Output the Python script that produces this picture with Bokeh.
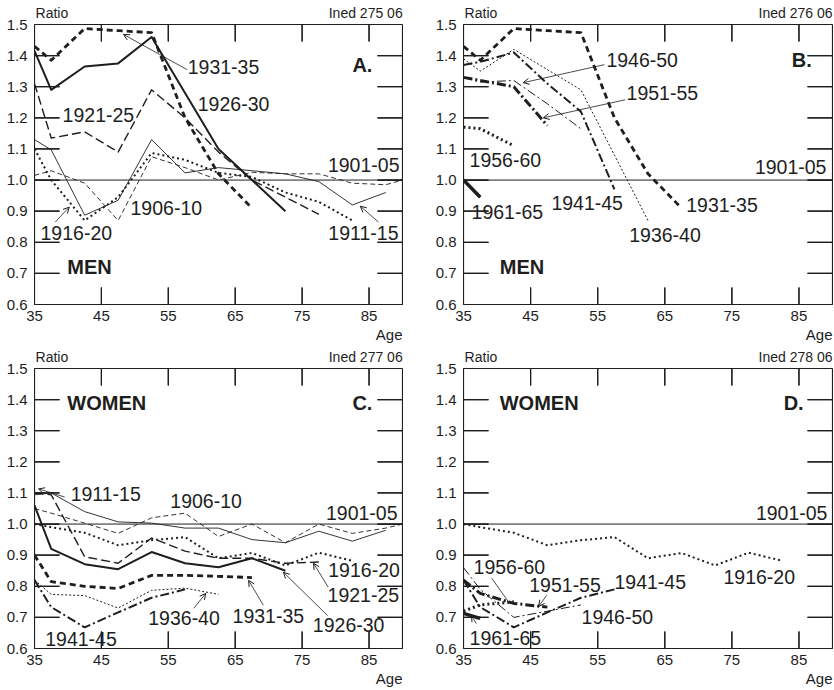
from bokeh.plotting import figure
from bokeh.models import (Range1d, LinearAxis, FixedTicker, PrintfTickFormatter,
                          Label, Arrow, OpenHead, Span, Title, BoxAnnotation)
from bokeh.layouts import column, row
from bokeh.embed import file_html
from bokeh.resources import INLINE

# ---------------- data ----------------
AGES = [35, 37.5, 42.5, 47.5, 52.5, 57.5, 62.5, 67.5, 72.5, 77.5, 82.5, 87.5, 90]
X_TICKS = [35, 45, 55, 65, 75, 85]
Y_TICKS = [0.6, 0.7, 0.8, 0.9, 1.0, 1.1, 1.2, 1.3, 1.4, 1.5]
X_MIN, X_MAX = 35, 90
Y_MIN, Y_MAX = 0.6, 1.5
REF_1901_05 = 1.0

# men
men_1906_10 = [1.015, 1.03, 0.99, 0.87, 1.075, 1.04, 1.00, 1.025, 1.02, 1.02, 0.99, 0.985, 1.0]
men_1911_15 = [1.13, 1.097, 0.887, 0.935, 1.13, 1.023, 1.04, 1.03, 1.02, 0.995, 0.92, 0.96]
men_1916_20 = [1.10, 1.00, 0.87, 0.945, 1.087, 1.065, 1.023, 1.01, 0.96, 0.93, 0.87]
men_1921_25 = [1.31, 1.135, 1.155, 1.09, 1.29, 1.20, 1.09, 1.00, 0.945, 0.89]
men_1926_30 = [1.415, 1.29, 1.365, 1.375, 1.46, 1.28, 1.10, 1.00, 0.90]
men_1931_35 = [1.43, 1.385, 1.487, 1.48, 1.474, 1.20, 1.02, 0.91]
men_1936_40 = [1.39, 1.35, 1.42, 1.355, 1.29, 1.08, 0.87]
men_1941_45 = [1.37, 1.38, 1.41, 1.31, 1.22, 0.97]
men_1946_50 = [1.33, 1.315, 1.32, 1.245, 1.165]
men_1951_55 = [1.33, 1.32, 1.30, 1.175]
men_1956_60 = [1.17, 1.165, 1.11]
men_1961_65 = [1.0, 0.945]

# women
wom_1906_10 = [1.05, 1.035, 1.003, 0.97, 1.02, 1.035, 0.96, 1.0, 0.94, 1.0, 0.97, 0.987, 1.0]
wom_1911_15 = [1.094, 1.10, 1.04, 1.007, 1.003, 0.987, 0.987, 0.95, 0.94, 0.977, 0.945, 0.98]
wom_1916_20 = [1.0, 0.99, 0.972, 0.932, 0.948, 0.958, 0.89, 0.907, 0.867, 0.908, 0.882]
wom_1921_25 = [1.10, 1.094, 0.895, 0.874, 0.955, 0.913, 0.89, 0.89, 0.874, 0.878]
wom_1926_30 = [1.06, 0.92, 0.871, 0.855, 0.91, 0.874, 0.861, 0.89, 0.85]
wom_1931_35 = [0.90, 0.815, 0.80, 0.793, 0.835, 0.835, 0.832, 0.828]
wom_1936_40 = [0.82, 0.774, 0.77, 0.73, 0.787, 0.794, 0.774]
wom_1941_45 = [0.82, 0.733, 0.668, 0.716, 0.763, 0.79]
wom_1946_50 = [0.86, 0.79, 0.70, 0.72, 0.74]
wom_1951_55 = [0.82, 0.777, 0.745, 0.733]
wom_1956_60 = [0.72, 0.74, 0.75]
wom_1961_65 = [0.713, 0.697]

# ---------------- styles ----------------
INK = "#1e1e1e"
FONT = "Liberation Sans"
STYLE = {
    "1906-10": (0.9, "5 3"),
    "1911-15": (0.9, "solid"),
    "1916-20": (2.0, "2 3"),
    "1921-25": (1.4, "9 4"),
    "1926-30": (2.0, "solid"),
    "1931-35": (2.8, "6 4"),
    "1936-40": (1.0, "2 2"),
    "1941-45": (2.0, "9 3 2 3"),
    "1946-50": (1.0, "9 3 2 3"),
    "1951-55": (3.0, "9 3 2 3"),
    "1956-60": (3.0, "2 3"),
    "1961-65": (3.5, "solid"),
}
FRAME_H = 280
HDR_RATIO_X = 37.6   # where the "Ratio" header sits along the top edge
HDR_CODE_X = 84.5    # where the "Ined ..." code sits along the top edge
Y_TICK_PX = 25       # length of the inward y ticks, px
X_TICK_PX = 17       # length of the inward x ticks, px


def add_ticks(p, fw):
    """Inward tick marks on all four sides.

    Each side is one continuous comb-shaped polyline that runs along the frame
    edge and out to every tick and back; thin boxes are laid on the same spots.
    """
    dx = Y_TICK_PX * (X_MAX - X_MIN) / fw
    dy = X_TICK_PX * (Y_MAX - Y_MIN) / FRAME_H
    hx = 0.6 * (X_MAX - X_MIN) / fw
    hy = 0.6 * (Y_MAX - Y_MIN) / FRAME_H
    iy = [t for t in Y_TICKS if Y_MIN < t < Y_MAX]
    ix = [t for t in X_TICKS if X_MIN < t < X_MAX]
    for edge, tip in [(X_MIN, X_MIN + dx), (X_MAX, X_MAX - dx)]:
        xs, ys = [edge], [Y_MIN]
        for t in iy:
            xs += [edge, tip, edge]
            ys += [t, t, t]
        xs.append(edge)
        ys.append(Y_MAX)
        p.line(xs, ys, line_color=INK, line_width=1.2)
        for t in iy:
            p.add_layout(BoxAnnotation(left=min(edge, tip), right=max(edge, tip),
                                       bottom=t - hy, top=t + hy,
                                       fill_color=INK, fill_alpha=1.0,
                                       line_color=INK, line_alpha=0.0))
    for edge, tip in [(Y_MIN, Y_MIN + dy), (Y_MAX, Y_MAX - dy)]:
        xs, ys = [X_MIN], [edge]
        for t in ix:
            xs += [t, t, t]
            ys += [edge, tip, edge]
        xs.append(X_MAX)
        ys.append(edge)
        p.line(xs, ys, line_color=INK, line_width=1.2)
        for t in ix:
            p.add_layout(BoxAnnotation(left=t - hx, right=t + hx,
                                       bottom=min(edge, tip), top=max(edge, tip),
                                       fill_color=INK, fill_alpha=1.0,
                                       line_color=INK, line_alpha=0.0))


def make_panel(fw, bl, br, bt, bb, code):
    p = figure(frame_width=fw, frame_height=FRAME_H,
               min_border_left=bl, min_border_right=br,
               min_border_top=bt, min_border_bottom=bb,
               x_range=Range1d(X_MIN, X_MAX), y_range=Range1d(Y_MIN, Y_MAX),
               x_axis_location=None, y_axis_location=None,
               output_backend="svg", toolbar_location=None)
    p.grid.visible = False
    p.outline_line_color = INK
    p.outline_line_width = 1
    p.background_fill_color = "white"
    p.border_fill_color = "white"
    for loc, ticks, fmt, standoff in [("left", Y_TICKS, "%.1f", 7),
                                      ("below", X_TICKS, "%d", 6)]:
        ax = LinearAxis(ticker=FixedTicker(ticks=ticks, minor_ticks=[]),
                        formatter=PrintfTickFormatter(format=fmt),
                        major_tick_in=0, major_tick_out=0,
                        major_tick_line_color=None, minor_tick_line_color=None,
                        axis_line_color=INK,
                        major_label_text_font=FONT,
                        major_label_text_font_size="15px",
                        major_label_text_color=INK,
                        major_label_standoff=standoff)
        p.add_layout(ax, loc)
    top = LinearAxis(ticker=FixedTicker(ticks=[HDR_RATIO_X, HDR_CODE_X], minor_ticks=[]),
                     major_label_overrides={HDR_RATIO_X: "Ratio", HDR_CODE_X: code},
                     major_tick_in=0, major_tick_out=0,
                     major_tick_line_color=None, minor_tick_line_color=None,
                     axis_line_color=None,
                     major_label_text_font=FONT, major_label_text_font_size="14px",
                     major_label_text_color=INK, major_label_standoff=4)
    p.add_layout(top, "above")
    p.add_layout(Title(text="Age", align="right", text_font=FONT,
                       text_font_size="15px", text_font_style="normal",
                       text_color=INK, standoff=0), "below")
    p.add_layout(Span(location=REF_1901_05, dimension="width",
                      line_color=INK, line_width=1))
    return p


def add_series(p, series):
    for name, vals in series:
        lw, dash = STYLE[name]
        p.line(AGES[:len(vals)], vals, line_color=INK, line_width=lw,
               line_dash=dash, line_join="round")


def add_text(p, items, size="19.5px", style="normal"):
    for it in items:
        txt, x, y = it[0], it[1], it[2]
        align = it[3] if len(it) > 3 else "left"
        p.add_layout(Label(x=x, y=y, text=txt, text_font=FONT, text_font_size=size,
                           text_font_style=style, text_color=INK,
                           text_align=align, text_baseline="middle"))


def add_arrows(p, items, head=True):
    for x0, y0, x1, y1 in items:
        end = OpenHead(size=6, line_color=INK, line_width=1) if head else None
        p.add_layout(Arrow(end=end, x_start=x0, y_start=y0, x_end=x1, y_end=y1,
                           line_color=INK, line_width=0.8))


# ---------------- panel A ----------------
pa = make_panel(368, 34, 30, 24, 40, "Ined 275 06")
add_series(pa, [("1906-10", men_1906_10), ("1911-15", men_1911_15),
                ("1916-20", men_1916_20), ("1921-25", men_1921_25),
                ("1926-30", men_1926_30), ("1931-35", men_1931_35)])
add_ticks(pa, 368)
add_text(pa, [("1931-35", 57.9, 1.365), ("1926-30", 59.4, 1.245),
              ("1921-25", 39.2, 1.21), ("1916-20", 35.9, 0.829),
              ("1906-10", 49.35, 0.91), ("1901-05", 89.55, 1.048, "right"),
              ("1911-15", 89.4, 0.829, "right")])
add_text(pa, [("A.", 85.5, 1.371, "right"), ("MEN", 39.9, 0.719)], "20px", "bold")
add_arrows(pa, [(57.8, 1.355, 48.3, 1.468), (38.1, 0.865, 40.2, 0.913),
                (86.4, 0.865, 83.7, 0.916)])

# ---------------- panel B ----------------
pb = make_panel(369, 30, 2, 24, 40, "Ined 276 06")
add_series(pb, [("1931-35", men_1931_35), ("1936-40", men_1936_40),
                ("1941-45", men_1941_45), ("1946-50", men_1946_50),
                ("1951-55", men_1951_55), ("1956-60", men_1956_60),
                ("1961-65", men_1961_65)])
add_ticks(pb, 369)
add_text(pb, [("1946-50", 56.3, 1.387), ("1951-55", 59.3, 1.281),
              ("1956-60", 35.9, 1.065), ("1901-05", 89.1, 1.042, "right"),
              ("1961-65", 36.2, 0.897), ("1941-45", 48.1, 0.926),
              ("1931-35", 68.2, 0.919), ("1936-40", 59.7, 0.823)])
add_text(pb, [("B.", 86.9, 1.387, "right"), ("MEN", 40.4, 0.719)], "20px", "bold")
add_arrows(pb, [(56.0, 1.371, 43.9, 1.313), (59.1, 1.258, 46.9, 1.2)])

# ---------------- panel C ----------------
pc = make_panel(368, 34, 30, 24, 40, "Ined 277 06")
add_series(pc, [("1906-10", wom_1906_10), ("1911-15", wom_1911_15),
                ("1916-20", wom_1916_20), ("1921-25", wom_1921_25),
                ("1926-30", wom_1926_30), ("1931-35", wom_1931_35),
                ("1936-40", wom_1936_40), ("1941-45", wom_1941_45)])
add_ticks(pc, 368)
add_text(pc, [("1911-15", 40.4, 1.097), ("1906-10", 55.3, 1.074),
              ("1901-05", 89.26, 1.035, "right"), ("1916-20", 89.6, 0.852, "right"),
              ("1921-25", 78.8, 0.771), ("1926-30", 76.6, 0.674),
              ("1931-35", 64.6, 0.706), ("1936-40", 52.0, 0.697),
              ("1941-45", 36.6, 0.632)])
add_text(pc, [("C.", 85.5, 1.39, "right"), ("WOMEN", 39.9, 1.39)], "20px", "bold")
add_arrows(pc, [(39.5, 1.087, 35.6, 1.113), (78.9, 0.797, 76.7, 0.874),
                (78.8, 0.706, 72.2, 0.845), (69.2, 0.739, 67.0, 0.819),
                (58.8, 0.729, 60.6, 0.777)])

# ---------------- panel D ----------------
pd_ = make_panel(369, 30, 2, 24, 40, "Ined 278 06")
add_series(pd_, [("1916-20", wom_1916_20), ("1941-45", wom_1941_45),
                 ("1946-50", wom_1946_50), ("1951-55", wom_1951_55),
                 ("1956-60", wom_1956_60), ("1961-65", wom_1961_65)])
add_ticks(pd_, 369)
add_text(pd_, [("1956-60", 36.5, 0.861), ("1951-55", 44.8, 0.803),
               ("1941-45", 57.5, 0.813), ("1946-50", 52.6, 0.70),
               ("1961-65", 35.9, 0.635), ("1916-20", 73.75, 0.829),
               ("1901-05", 89.25, 1.035, "right")])
add_text(pd_, [("D.", 85.7, 1.39, "right"), ("WOMEN", 40.4, 1.39)], "20px", "bold")
add_arrows(pd_, [(47.4, 0.771, 46.2, 0.735), (36.9, 0.68, 36.2, 0.706)])
add_arrows(pd_, [(39.2, 0.826, 41.7, 0.75)], head=False)

layout = column(row(pa, pb), row(pc, pd_))
open("out.html", "w").write(file_html(layout, INLINE))
